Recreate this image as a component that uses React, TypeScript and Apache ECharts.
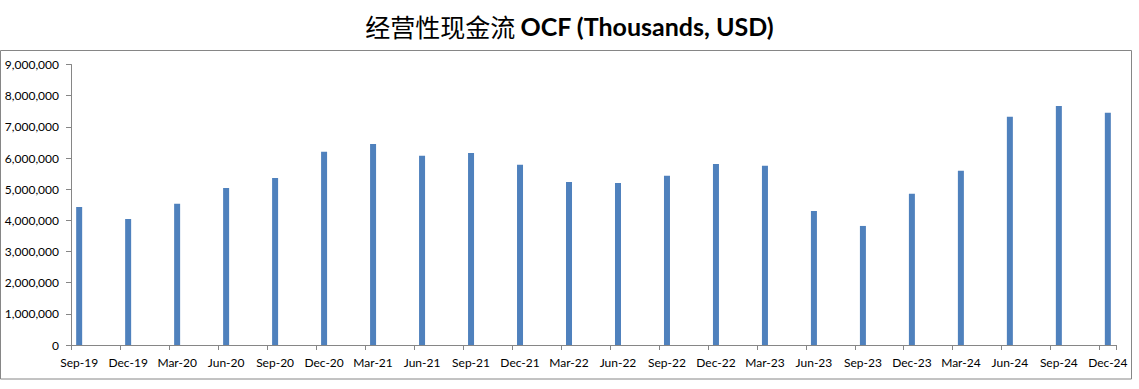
import React, { useEffect, useRef } from "react";
import * as echarts from "echarts";

const quarterLabels = [
  "Sep-19", "Dec-19", "Mar-20", "Jun-20", "Sep-20", "Dec-20", "Mar-21", "Jun-21",
  "Sep-21", "Dec-21", "Mar-22", "Jun-22", "Sep-22", "Dec-22", "Mar-23", "Jun-23",
  "Sep-23", "Dec-23", "Mar-24", "Jun-24", "Sep-24", "Dec-24",
];

const ocfValues = [
  4430000, 4040000, 4530000, 5040000, 5360000, 6200000, 6450000, 6070000,
  6160000, 5780000, 5230000, 5200000, 5430000, 5810000, 5750000, 4300000,
  3820000, 4850000, 5590000, 7320000, 7670000, 7450000,
];

const yMax = 9000000;
const yInterval = 1000000;

export default function App() {
  const ref = useRef<HTMLDivElement>(null);

  useEffect(() => {
    if (!ref.current) return;
    const chart = echarts.init(ref.current, null, { renderer: "svg" });

    // monthly date-style axis: each quarter label followed by two empty months
    const months: string[] = [];
    quarterLabels.forEach((q, i) => {
      months.push(q);
      if (i < quarterLabels.length - 1) months.push("", "");
    });
    const barData = ocfValues.map((v, i) => [i * 3, v]);

    const axisColor = "#868686";
    const font = "Lato, 'Noto Sans', sans-serif";

    chart.setOption({
      animation: false,
      backgroundColor: "#ffffff",
      title: {
        text: "{cn|经营性现金流} {en|OCF (Thousands, USD)}",
        left: "center",
        top: 8,
        textStyle: {
          rich: {
            cn: {
              fontFamily: "'Noto Sans CJK SC', sans-serif",
              fontSize: 25,
              fontWeight: "normal",
              color: "#000",
            },
            en: {
              fontFamily: font,
              fontSize: 25,
              fontWeight: "bold",
              color: "#000",
            },
          },
        },
      },
      graphic: [
        {
          type: "rect",
          shape: { x: 0.5, y: 50.5, width: 1131, height: 328.5 },
          style: { fill: "none", stroke: axisColor, lineWidth: 1 },
          silent: true,
        },
      ],
      grid: { left: 71, right: 23, top: 64.5, bottom: 44, containLabel: false },
      xAxis: {
        type: "category",
        data: months,
        boundaryGap: true,
        axisLine: { show: true, lineStyle: { color: axisColor, width: 1 } },
        axisTick: { show: true, interval: 2, length: 5, alignWithLabel: false, lineStyle: { color: axisColor } },
        axisLabel: {
          interval: 2,
          margin: 11,
          color: "#000",
          fontFamily: font,
          fontSize: 12,
        },
        splitLine: { show: false },
      },
      yAxis: {
        type: "value",
        min: 0,
        max: yMax,
        interval: yInterval,
        axisLine: { show: true, lineStyle: { color: axisColor, width: 1 } },
        axisTick: { show: true, length: 5, lineStyle: { color: axisColor } },
        axisLabel: {
          margin: 12,
          color: "#000",
          fontFamily: font,
          fontSize: 12,
          formatter: (v: number) => v.toLocaleString("en-US"),
        },
        splitLine: { show: false },
      },
      series: [
        {
          type: "bar",
          data: barData,
          barWidth: 6,
          itemStyle: { color: "#4F81BD" },
        },
      ],
    });

    return () => chart.dispose();
  }, []);

  return (
    <div
      ref={ref}
      style={{ position: "absolute", left: 0, top: 0, width: 1139, height: 389 }}
    />
  );
}
